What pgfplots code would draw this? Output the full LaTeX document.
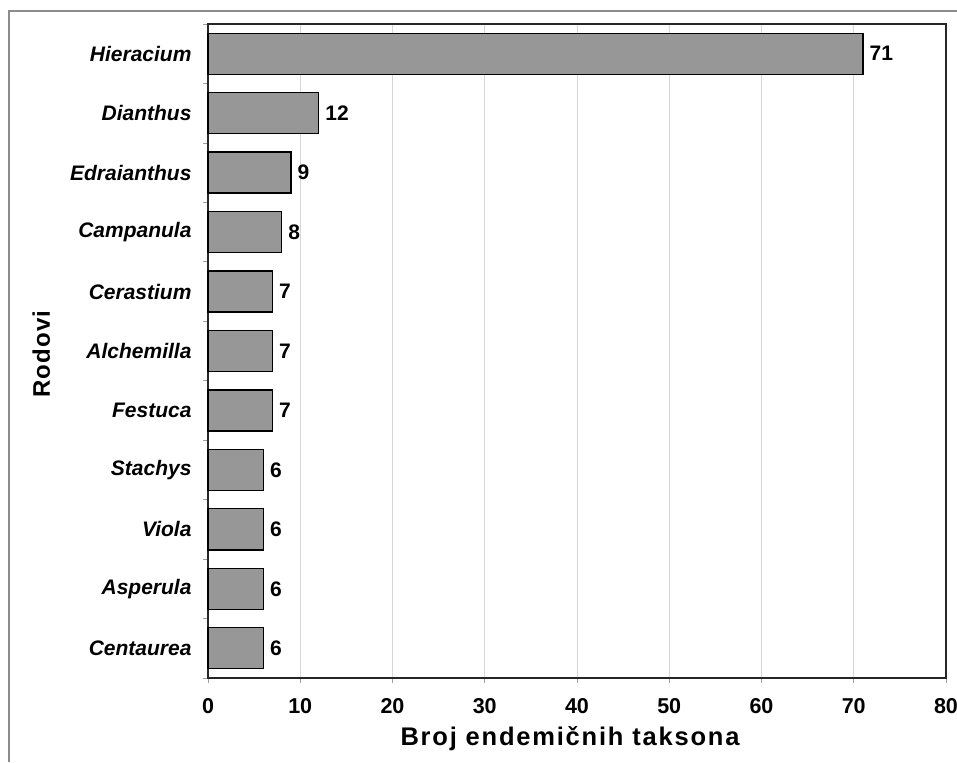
\documentclass[border=0pt]{standalone}
\usepackage{fontspec}
\setmainfont{Liberation Sans}
\usepackage{pgfplots}
\pgfplotsset{compat=1.18}
\definecolor{barfill}{HTML}{979797}
\definecolor{gridc}{HTML}{D6D6D6}
\definecolor{framec}{HTML}{8C8C8C}
\definecolor{tickc}{HTML}{A0A0A0}
\begin{document}
\begin{tikzpicture}[x=1pt,y=1pt]
\useasboundingbox (0,0) rectangle (957,762);
\draw[framec, line width=1.2pt] (9,0) -- (9,751) -- (957,751);
\begin{axis}[
  at={(208pt,84pt)}, anchor=south west,
  scale only axis, width=738pt, height=654pt,
  xbar, bar width=0.69,
  xmin=0, xmax=80, ymin=-0.5, ymax=10.5,
  xtick={0,10,...,80},
  ytick={-0.5,0.5,...,10.5},
  xtick pos=bottom, ytick pos=left,
  yticklabels={Centaurea,Asperula,Viola,Stachys,Festuca,Alchemilla,Cerastium,Campanula,Edraianthus,Dianthus,Hieracium,{}},
  yticklabel style={yshift=29.73pt, xshift=-8pt, font=\bfseries\itshape\fontsize{21}{25}\selectfont},
  xticklabel style={yshift=-12pt, font=\bfseries\fontsize{21.5}{25}\selectfont},
  /pgf/number format/assume math mode=true,
  tick align=outside, major tick length=5pt,
  tick style={tickc, line width=0.8pt},
  xmajorgrids, grid style={gridc, line width=0.8pt},
  axis line style={line width=1.6pt, black!85},
  xlabel={\addfontfeature{LetterSpace=7}Broj endemičnih taksona},
  ylabel={\addfontfeature{LetterSpace=5}Rodovi},
  xlabel style={at={(axis description cs:0.4905,-0.0933)}, anchor=center, font=\bfseries\fontsize{25.5}{30}\selectfont},
  ylabel style={at={(axis description cs:-0.226,0.495)}, anchor=center, font=\bfseries\fontsize{24}{30}\selectfont},
  nodes near coords,
  point meta=x,
  nodes near coords style={font=\bfseries\fontsize{21}{25}\selectfont, anchor=west, inner sep=6pt},
  clip=false,
]
\addplot[fill=barfill, draw=black, line width=1.3pt] coordinates {
  (6,0) (6,1) (6,2) (6,3) (7,4) (7,5) (7,6) (8,7) (9,8) (12,9) (71,10)
};
\end{axis}
\end{tikzpicture}
\end{document}
